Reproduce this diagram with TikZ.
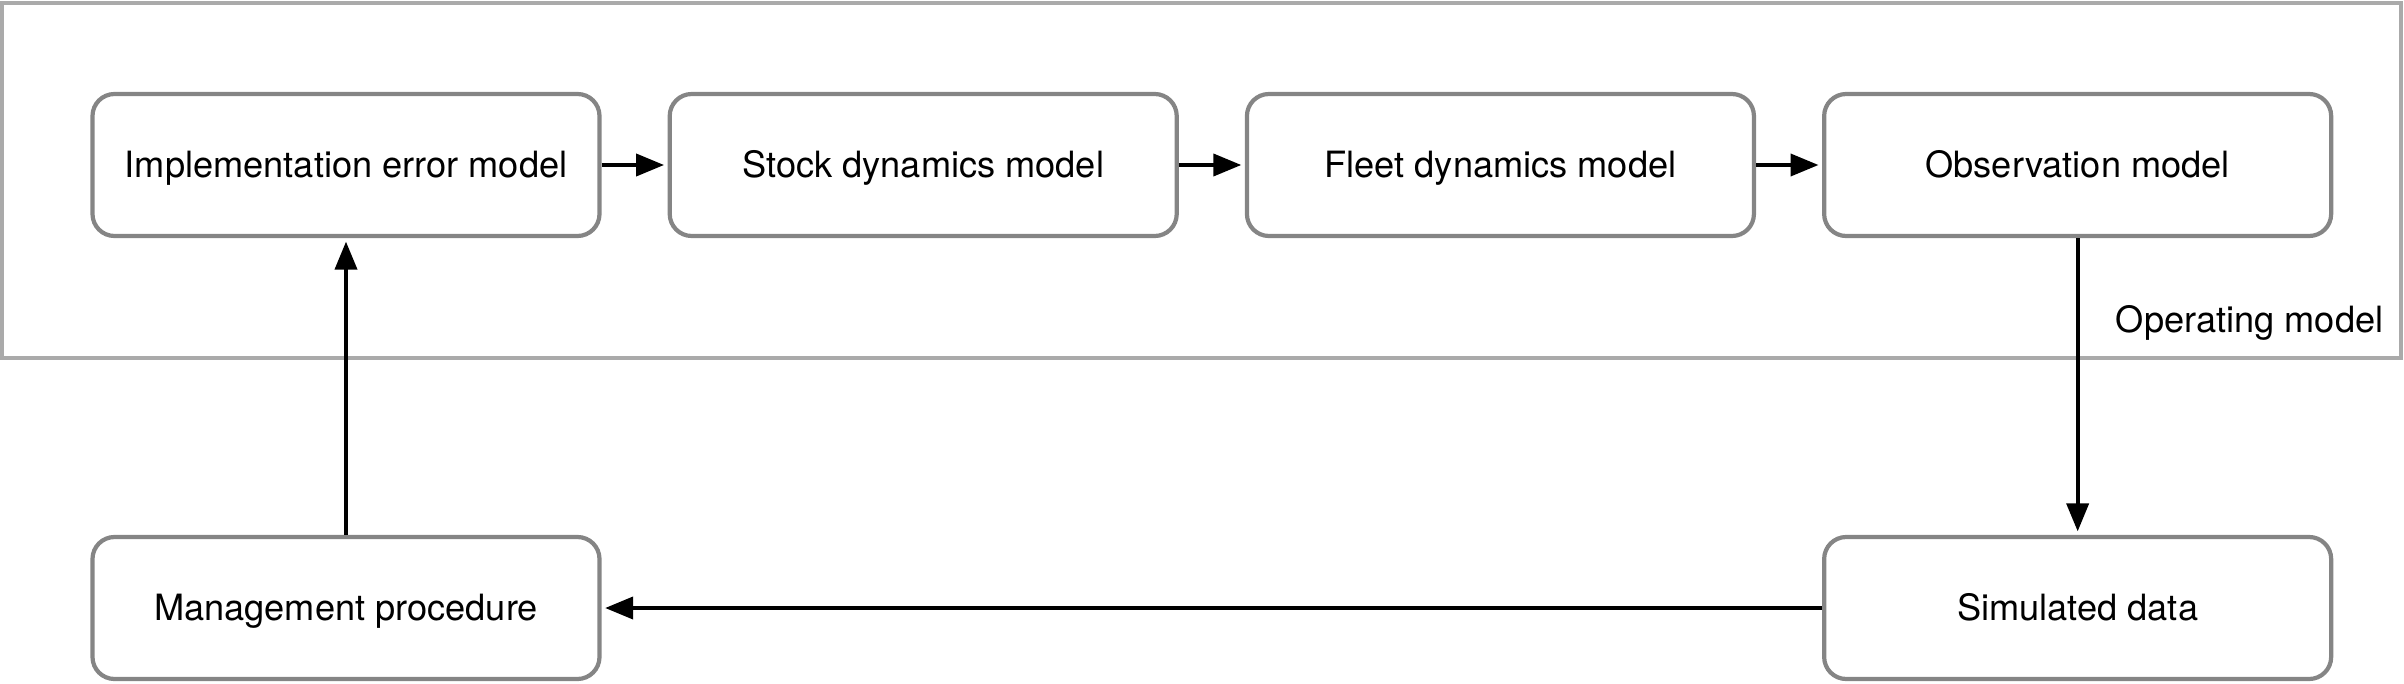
\documentclass[tikz,border=0pt]{standalone}
\usepackage{fontspec}
\setmainfont{TeX Gyre Heros}
\usetikzlibrary{positioning,arrows.meta}
\definecolor{boxgray}{HTML}{858585}
\definecolor{framegray}{HTML}{AAAAAA}
\tikzset{
  model/.style={draw=boxgray,line width=1.2pt,rounded corners=.22cm,minimum width=5.07cm,minimum height=1.42cm,text height=.72em,text depth=0pt,inner sep=0pt},
  flow/.style={line width=1.1pt,-{Triangle[length=.28cm,width=.22cm]},shorten >=1pt}
}
\begin{document}
\begin{tikzpicture}[font=\fontsize{10.3pt}{12.5pt}\selectfont]
                \useasboundingbox (0,0) rectangle (24.04,-6.84);
                \draw[framegray,line width=1pt] (.02,-.03) rectangle (24.01,-3.58);
                \node[model] (impl) at (3.46,-1.65) {Implementation error model};
                \node[model,right=.66cm of impl] (stock) {Stock dynamics model};
                \node[model,right=.66cm of stock] (fleet) {Fleet dynamics model};
                \node[model,right=.66cm of fleet] (obs) {Observation model};
                \node[model] (mgmt) at (3.46,-6.08) {Management procedure};
                \node[model] (sim) at (obs |- mgmt) {Simulated data};
                \node[anchor=base east,inner sep=0pt] (oplbl) at (23.84,-3.32) {Operating model};
                \draw[flow] (impl) -- (stock);
                \draw[flow] (stock) -- (fleet);
                \draw[flow] (fleet) -- (obs);
                \draw[flow] (obs) -- (sim);
                \draw[flow] (sim) -- (mgmt);
                \draw[flow] (mgmt) -- (impl);
            \end{tikzpicture}
\end{document}
